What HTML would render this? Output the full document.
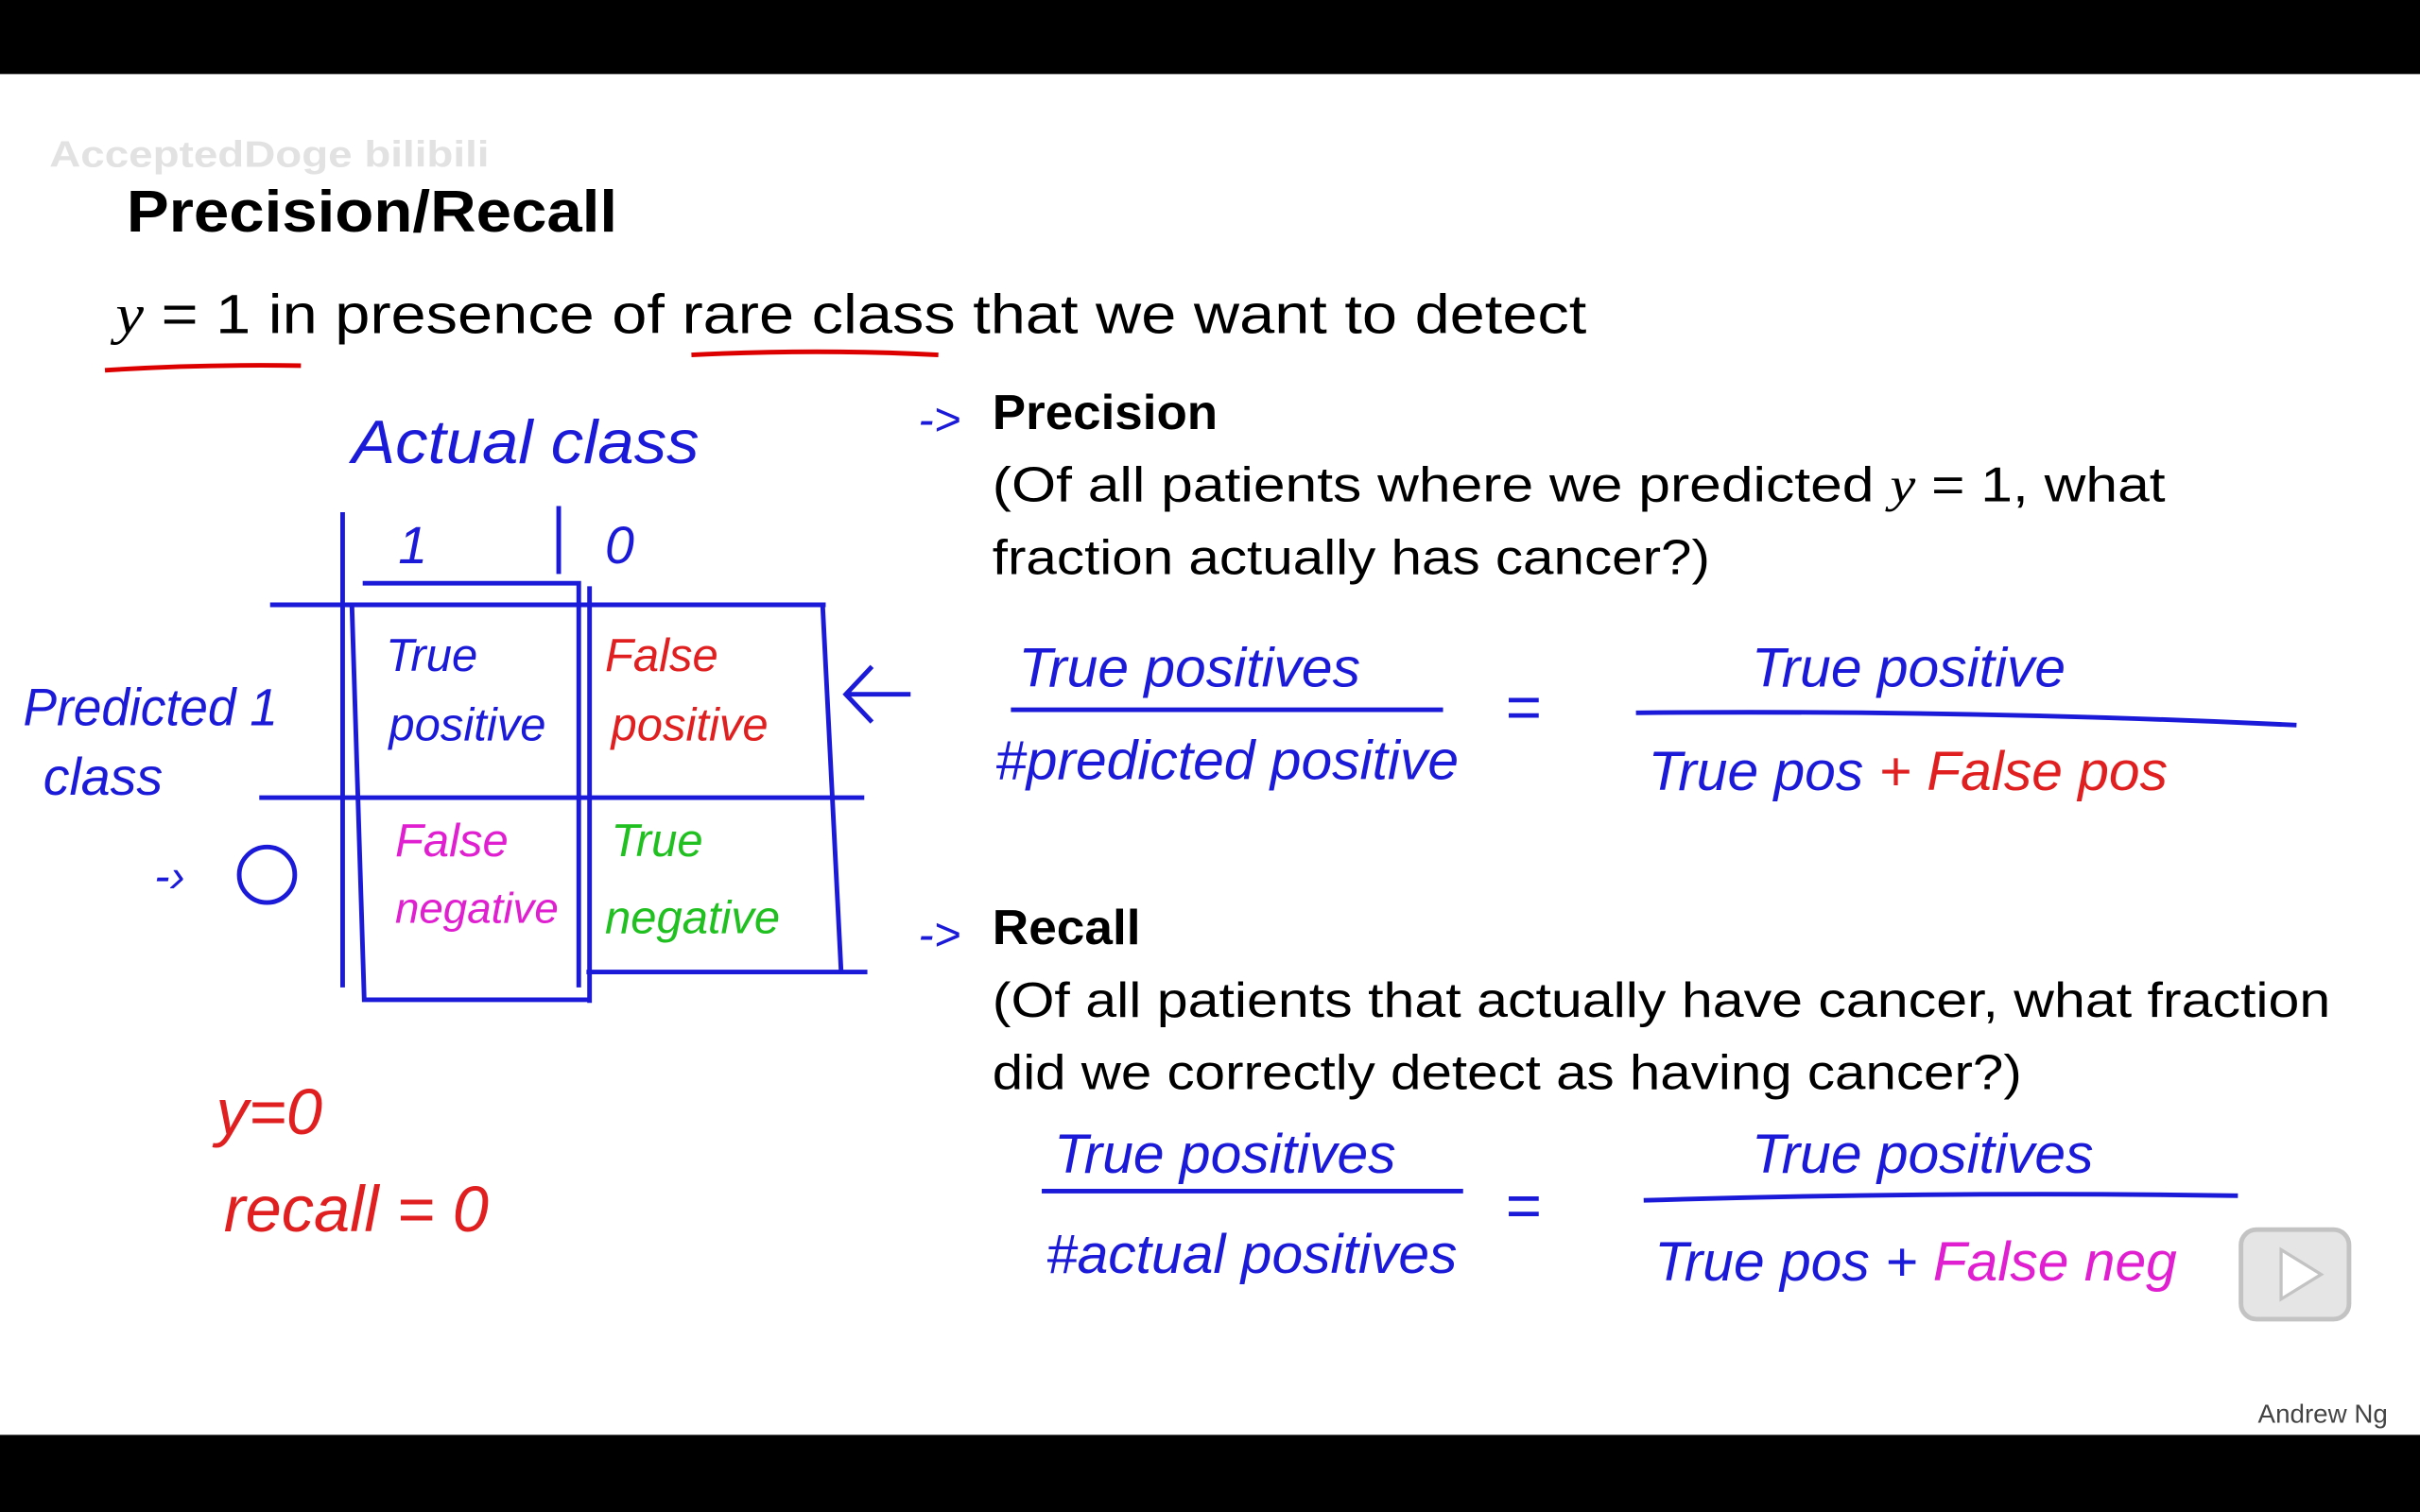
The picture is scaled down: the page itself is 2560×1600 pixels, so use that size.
<!DOCTYPE html>
<html><head><meta charset="utf-8"><style>
html,body{margin:0;padding:0;background:#000;width:2560px;height:1600px;overflow:hidden}
svg{display:block}
.t{font-family:"Liberation Sans",sans-serif;fill:#000}
.h{font-family:"Liberation Sans",sans-serif;font-style:italic}
</style></head><body>
<svg width="2560" height="1600" viewBox="0 0 1568 980" xmlns="http://www.w3.org/2000/svg">
<rect x="0" y="0" width="1568" height="980" fill="#000"/>
<rect x="0" y="48" width="1568" height="882" fill="#fff"/>
<text x="32" y="108" class="t" font-size="24" font-weight="bold" style="fill:#e2e2e2" textLength="285" lengthAdjust="spacingAndGlyphs">AcceptedDoge bilibili</text>
<text x="82" y="150" class="t" font-size="38" font-weight="bold" textLength="318" lengthAdjust="spacingAndGlyphs">Precision/Recall</text>
<text x="75" y="216" class="t" font-size="36" textLength="953" lengthAdjust="spacingAndGlyphs"><tspan font-family="Liberation Serif" font-style="italic">y</tspan> = 1 in presence of rare class that we want to detect</text>
<path d="M68 240 Q130 236 195 237" stroke="#d00" stroke-width="3" fill="none"/>
<path d="M448 230 Q530 226 608 230" stroke="#d00" stroke-width="3" fill="none"/>
<g stroke="#1a1ad8" stroke-width="3" fill="none">
<text class="h" x="228" y="300" font-size="40" fill="#1a1ad8" stroke="none" textLength="225" lengthAdjust="spacingAndGlyphs">Actual class</text>
<text class="h" x="258" y="365" font-size="34" fill="#1a1ad8" stroke="none">1</text>
<text class="h" x="392" y="365" font-size="34" fill="#1a1ad8" stroke="none">0</text>
<path d="M222 332 V640 M362 328 V372 M175 392 H535 M168 517 H560 M235 378 H375 V640 M228 392 L236 648 H382 M382 380 V650 M533 392 L545 630 M380 630 H562"/>
<text class="h" x="15" y="470" font-size="34" fill="#1a1ad8" stroke="none" textLength="165" lengthAdjust="spacingAndGlyphs">Predicted 1</text>
<text class="h" x="28" y="515" font-size="34" fill="#1a1ad8" stroke="none">class</text>
<text class="h" x="100" y="578" font-size="30" fill="#1a1ad8" stroke="none">-›</text>
<circle cx="173" cy="567" r="18"/>
<text class="h" x="250" y="435" font-size="30" fill="#1a1ad8" stroke="none">True</text>
<text class="h" x="252" y="480" font-size="30" fill="#1a1ad8" stroke="none">positive</text>
<text class="h" x="392" y="435" font-size="30" fill="#e02020" stroke="none">False</text>
<text class="h" x="396" y="480" font-size="30" fill="#e02020" stroke="none">positive</text>
<text class="h" x="256" y="555" font-size="30" fill="#e020d0" stroke="none">False</text>
<text class="h" x="256" y="598" font-size="28" fill="#e020d0" stroke="none">negative</text>
<text class="h" x="396" y="555" font-size="30" fill="#20c020" stroke="none">True</text>
<text class="h" x="392" y="605" font-size="30" fill="#20c020" stroke="none">negative</text>
<path d="M590 450 H548 M565 432 L548 450 L565 468"/>
</g>
<text class="h" x="140" y="735" font-size="42" fill="#e02020">y=0</text>
<text class="h" x="145" y="798" font-size="42" fill="#e02020">recall = 0</text>
<text class="h" x="595" y="282" font-size="30" fill="#1a1ad8">-&gt;</text>
<text x="643" y="278" class="t" font-size="32" font-weight="bold" textLength="146" lengthAdjust="spacingAndGlyphs">Precision</text>
<text x="643" y="325" class="t" font-size="32" textLength="760" lengthAdjust="spacingAndGlyphs">(Of all patients where we predicted <tspan font-family="Liberation Serif" font-style="italic">y</tspan> = 1, what</text>
<text x="643" y="372" class="t" font-size="32" textLength="465" lengthAdjust="spacingAndGlyphs">fraction actually has cancer?)</text>
<g>
<text class="h" x="660" y="445" font-size="36" fill="#1a1ad8">True positives</text>
<path d="M655 460 H935" stroke="#1a1ad8" stroke-width="3"/>
<text class="h" x="645" y="505" font-size="36" fill="#1a1ad8">#predicted positive</text>
<text class="h" x="975" y="472" font-size="40" fill="#1a1ad8">=</text>
<text class="h" x="1135" y="445" font-size="36" fill="#1a1ad8">True positive</text>
<path d="M1060 462 Q1280 460 1488 470" stroke="#1a1ad8" stroke-width="3" fill="none"/>
<text class="h" x="1068" y="512" font-size="36" fill="#1a1ad8">True pos <tspan fill="#e02020">+ False pos</tspan></text>
</g>
<text class="h" x="595" y="616" font-size="30" fill="#1a1ad8">-&gt;</text>
<text x="643" y="612" class="t" font-size="32" font-weight="bold" textLength="96" lengthAdjust="spacingAndGlyphs">Recall</text>
<text x="643" y="659" class="t" font-size="32" textLength="867" lengthAdjust="spacingAndGlyphs">(Of all patients that actually have cancer, what fraction</text>
<text x="643" y="706" class="t" font-size="32" textLength="667" lengthAdjust="spacingAndGlyphs">did we correctly detect as having cancer?)</text>
<g>
<text class="h" x="683" y="760" font-size="36" fill="#1a1ad8">True positives</text>
<path d="M675 772 H948" stroke="#1a1ad8" stroke-width="3"/>
<text class="h" x="678" y="825" font-size="36" fill="#1a1ad8">#actual positives</text>
<text class="h" x="975" y="795" font-size="40" fill="#1a1ad8">=</text>
<text class="h" x="1135" y="760" font-size="36" fill="#1a1ad8">True positives</text>
<path d="M1065 778 Q1260 772 1450 775" stroke="#1a1ad8" stroke-width="3" fill="none"/>
<text class="h" x="1072" y="830" font-size="36" fill="#1a1ad8">True pos + <tspan fill="#e020d0">False neg</tspan></text>
</g>
<g opacity="0.5">
<rect x="1452" y="797" width="70" height="58" rx="10" fill="#ccc" stroke="#888" stroke-width="3"/>
<path d="M1478 810 L1504 826 L1478 842 Z" fill="#fff" stroke="#888" stroke-width="2"/>
</g>
<text x="1463" y="922" class="t" font-size="17" style="fill:#444">Andrew Ng</text>
</svg>
</body></html>
